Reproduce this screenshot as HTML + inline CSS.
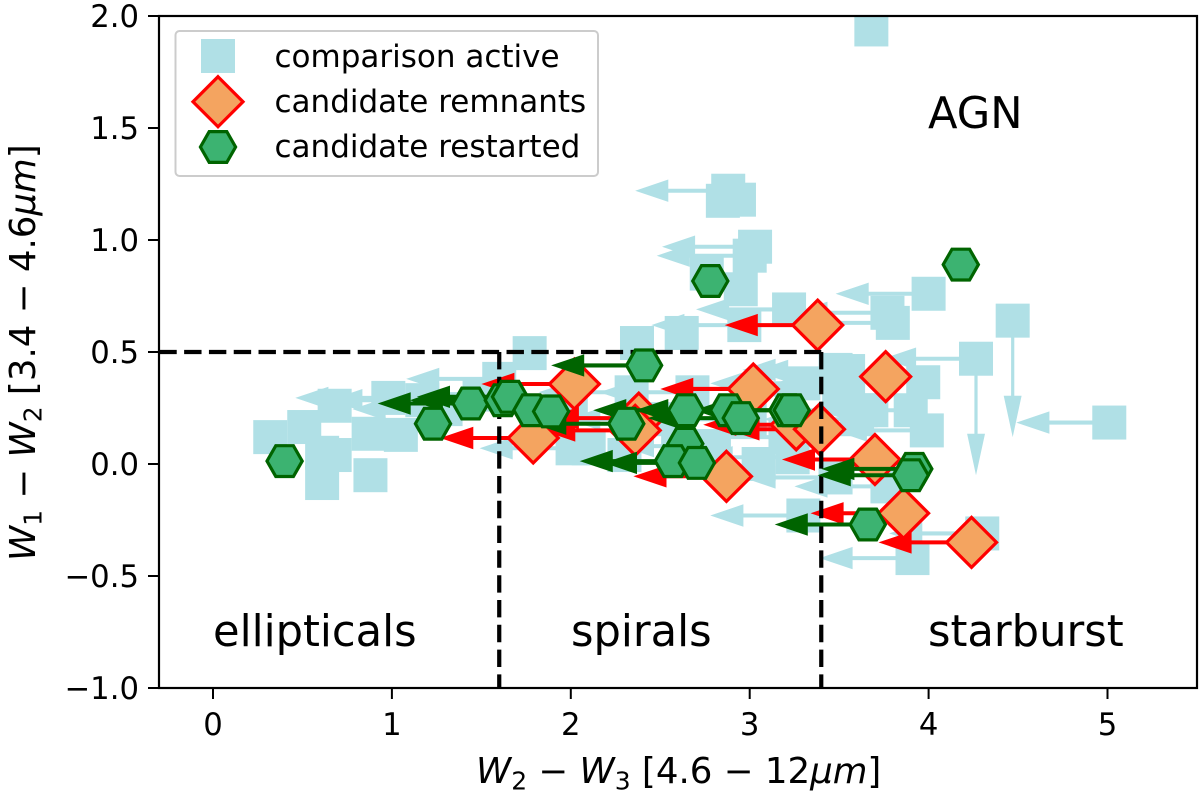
<!DOCTYPE html>
<html>
<head>
<meta charset="utf-8">
<title>WISE colour-colour diagram</title>
<style>
html,body{margin:0;padding:0;background:#fff;}
svg{display:block;font-family:"DejaVu Sans","Liberation Sans",sans-serif;}
</style>
</head>
<body>
<svg id="chart" width="1200" height="799" viewBox="0 0 1200 799" xmlns="http://www.w3.org/2000/svg">
<rect x="0" y="0" width="1200" height="799" fill="#fff"/>
<defs><clipPath id="plot-clip"><rect x="159" y="16" width="1038" height="672"/></clipPath></defs>
<g id="plot" clip-path="url(#plot-clip)"></g>
<g id="frame"></g>
<g id="legend"></g>
<text x="476" y="783" font-size="35.6" fill="#000"><tspan font-style="italic">W</tspan><tspan font-size="25" dy="6.5">2</tspan><tspan dy="-6.5"> − </tspan><tspan font-style="italic">W</tspan><tspan font-size="25" dy="6.5">3</tspan><tspan dy="-6.5"> [4.6 − 12</tspan><tspan font-style="italic">μm</tspan>]</text>
<text transform="translate(35,561) rotate(-90)" font-size="35.6" fill="#000"><tspan font-style="italic">W</tspan><tspan font-size="25" dy="6.5">1</tspan><tspan dy="-6.5"> − </tspan><tspan font-style="italic">W</tspan><tspan font-size="25" dy="6.5">2</tspan><tspan dy="-6.5"> [3.4 − 4.6</tspan><tspan font-style="italic">μm</tspan>]</text>
<text x="928" y="128" font-size="43.2" fill="#000">AGN</text>
<text x="213" y="646" font-size="43.2" fill="#000">ellipticals</text>
<text x="571" y="646" font-size="43.2" fill="#000">spirals</text>
<text x="928" y="646" font-size="43.2" fill="#000">starburst</text>
</svg>
<script>
var xTicks = [0, 1, 2, 3, 4, 5];
var yTicks = [-1.0, -0.5, 0.0, 0.5, 1.0, 1.5, 2.0];
var yTickLabels = ['−1.0', '−0.5', '0.0', '0.5', '1.0', '1.5', '2.0'];

var activeX = [0.32,0.51,0.68,0.98,0.87,1.05,0.61,0.68,0.61,0.88,1.30,1.17,1.60,1.77,1.49,2.01,2.37,2.62,2.97,3.22,3.03,3.00,2.76,2.95,2.85,2.88,2.94,4.00,3.77,3.80,3.68,4.47,4.265,5.01,3.97,3.99,3.90,3.55,3.62,3.68,3.60,4.30,3.91,3.30,3.77,3.48,2.68,2.34,3.05,3.24,3.48,3.30,2.10,2.30,2.60,2.80,2.50,3.00,3.20,3.55,3.50,2.00];
var activeY = [0.12,0.165,0.26,0.295,0.135,0.13,-0.085,0.04,0.05,-0.05,0.245,0.285,0.38,0.495,0.31,0.07,0.54,0.585,0.62,0.69,0.97,0.93,0.85,0.78,1.175,1.22,1.18,0.76,0.675,0.63,1.94,0.64,0.47,0.185,0.365,0.15,0.24,0.415,0.24,0.24,0.20,-0.31,-0.42,-0.23,-0.10,-0.06,0.32,0.32,0.00,0.03,0.42,0.36,0.07,0.04,0.06,0.08,0.20,0.20,0.12,0.33,0.30,0.28];
var activeLimit = ['','','','L','','','','','','','L','L','L','','','L','','','L','L','L','L','','','','L','','L','L','L','','D','LD','L','','L','L','L','L','','L','L','L','L','L','L','L','L','','L','L','L','','','','L','L','L','L','L','','L'];

var remnantX = [3.38,3.76,2.02,3.02,1.79,2.38,2.36,3.26,3.39,3.70,2.87,3.86,4.24];
var remnantY = [0.62,0.39,0.357,0.335,0.116,0.205,0.15,0.175,0.155,0.02,-0.055,-0.22,-0.35];
var remnantLimit = [1,0,1,1,1,1,1,1,1,1,1,1,1];

var restartedX = [0.40,1.23,1.44,1.62,1.66,1.78,1.89,2.41,2.31,2.645,2.64,2.57,2.705,2.88,2.95,3.21,3.235,2.78,4.18,3.92,3.90,3.66];
var restartedY = [0.013,0.18,0.27,0.285,0.30,0.24,0.235,0.44,0.18,0.24,0.09,0.013,0.005,0.24,0.205,0.24,0.24,0.817,0.89,-0.022,-0.05,-0.27];
var restartedLimit = [0,0,1,1,1,0,0,1,1,1,0,1,1,1,1,1,1,0,0,1,1,1];

var NS = 'http://www.w3.org/2000/svg';
function sx(v) { return 213 + v * 178.9; }
function sy(v) { return 464 - v * 224; }
function make(tag, attrs, parent) {
  var el = document.createElementNS(NS, tag);
  for (var k in attrs) el.setAttribute(k, attrs[k]);
  parent.appendChild(el);
  return el;
}
var ARROW_LEN = 0.52, HEAD_LEN = 0.185, HEAD_W = 0.05, SHAFT_W = 0.009;
function arrowPoints(x, y, dir) {
  var p;
  if (dir === 'L') {
    p = [[x, y - SHAFT_W], [x - ARROW_LEN + HEAD_LEN, y - SHAFT_W], [x - ARROW_LEN + HEAD_LEN, y - HEAD_W], [x - ARROW_LEN, y],
         [x - ARROW_LEN + HEAD_LEN, y + HEAD_W], [x - ARROW_LEN + HEAD_LEN, y + SHAFT_W], [x, y + SHAFT_W]];
  } else {
    var s = SHAFT_W, h = HEAD_W;
    p = [[x - s, y], [x - s, y - ARROW_LEN + HEAD_LEN], [x - h, y - ARROW_LEN + HEAD_LEN], [x, y - ARROW_LEN],
         [x + h, y - ARROW_LEN + HEAD_LEN], [x + s, y - ARROW_LEN + HEAD_LEN], [x + s, y]];
  }
  return p.map(function (q) { return sx(q[0]).toFixed(1) + ',' + sy(q[1]).toFixed(1); }).join(' ');
}
var plot = document.getElementById('plot');

var activeGroup = make('g', {}, plot);


activeX.forEach(function (x, i) {
  var y = activeY[i], lim = activeLimit[i];
  ['L', 'D'].forEach(function (dir) {
    if (lim.indexOf(dir) < 0) return;
    var a = make('polygon', { points: arrowPoints(x, y, dir), fill: '#B0E0E6' }, activeGroup);
    
    
  });
  var r = make('rect', { x: sx(x) - 17, y: sy(y) - 17, width: 34, height: 34, fill: '#B0E0E6' }, activeGroup);
  
  
});

function diamond(cx, cy, parent) {
  var h = 25;
  var d = make('polygon', { points: cx + ',' + (cy - h) + ' ' + (cx + h) + ',' + cy + ' ' + cx + ',' + (cy + h) + ' ' + (cx - h) + ',' + cy, fill: '#F4A460', stroke: '#FF0000', 'stroke-width': 3.2, 'stroke-linejoin': 'miter' }, parent);
  return d;
}
var remnantGroup = make('g', {}, plot);


remnantX.forEach(function (x, i) {
  if (!remnantLimit[i]) return;
  var a = make('polygon', { points: arrowPoints(x, remnantY[i], 'L'), fill: '#FF0000' }, remnantGroup);
  
  
});
remnantX.forEach(function (x, i) {
  var d = diamond(sx(x), sy(remnantY[i]), remnantGroup);
  
  
});

function dashLine(x1, y1, x2, y2, name) {
  var l = make('line', { x1: x1, y1: y1, x2: x2, y2: y2, stroke: '#000', 'stroke-width': 4.2, 'stroke-dasharray': '17.4 7.4' }, plot);
  
  
}
dashLine(sx(-0.3), sy(0.5), sx(3.4), sy(0.5), 'agn-boundary-horizontal');
dashLine(sx(1.6), sy(0.5), sx(1.6), sy(-1), 'ellipticals-spirals-boundary');
dashLine(sx(3.4), sy(0.5), sx(3.4), sy(-1), 'spirals-starburst-boundary');

function hexagon(cx, cy, parent) {
  var rx = 17.6, ry = 15.4, q = 8.8;
  var pts = [[-rx, 0], [-q, -ry], [q, -ry], [rx, 0], [q, ry], [-q, ry]].map(function (p) { return (cx + p[0]).toFixed(1) + ',' + (cy + p[1]).toFixed(1); }).join(' ');
  return make('polygon', { points: pts, fill: '#3CB371', stroke: '#006400', 'stroke-width': 3.2 }, parent);
}
var restartedGroup = make('g', {}, plot);


restartedX.forEach(function (x, i) {
  if (!restartedLimit[i]) return;
  var a = make('polygon', { points: arrowPoints(x, restartedY[i], 'L'), fill: '#006400' }, restartedGroup);
  
  
});
restartedX.forEach(function (x, i) {
  var h = hexagon(sx(x), sy(restartedY[i]), restartedGroup);
  
  
});

var frame = document.getElementById('frame');
var border = make('rect', { x: 159, y: 16, width: 1038, height: 672, fill: 'none', stroke: '#000', 'stroke-width': 2.2 }, frame);


xTicks.forEach(function (v) {
  var t = make('line', { x1: sx(v), x2: sx(v), y1: 688, y2: 699, stroke: '#000', 'stroke-width': 2 }, frame);
  
  
  var l = make('text', { x: sx(v), y: 735, 'text-anchor': 'middle', 'font-size': 30.7, fill: '#000' }, frame);
  
  
  l.textContent = String(v);
});
yTicks.forEach(function (v, i) {
  var t = make('line', { x1: 148, x2: 159, y1: sy(v), y2: sy(v), stroke: '#000', 'stroke-width': 2 }, frame);
  
  
  var l = make('text', { x: 139, y: sy(v) + 11, 'text-anchor': 'end', 'font-size': 30.7, fill: '#000' }, frame);
  
  
  l.textContent = yTickLabels[i];
});

var legend = document.getElementById('legend');
var lbox = make('rect', { x: 175.5, y: 31, width: 422.5, height: 145, rx: 4, fill: '#fff', 'fill-opacity': 0.8, stroke: '#ccc', 'stroke-width': 2 }, legend);


var lsq = make('rect', { x: 201, y: 39, width: 34, height: 34, fill: '#B0E0E6' }, legend);


var ldi = diamond(218, 101.7, legend);


var lhx = hexagon(218, 147, legend);


var t1 = make('text', { x: 274.5, y: 67, 'font-size': 31, fill: '#000' }, legend);


t1.textContent = 'comparison active';
var t2 = make('text', { x: 274.5, y: 112, 'font-size': 31, fill: '#000' }, legend);


t2.textContent = 'candidate remnants';
var t3 = make('text', { x: 274.5, y: 157, 'font-size': 31, fill: '#000' }, legend);


t3.textContent = 'candidate restarted';
</script>
</body>
</html>
